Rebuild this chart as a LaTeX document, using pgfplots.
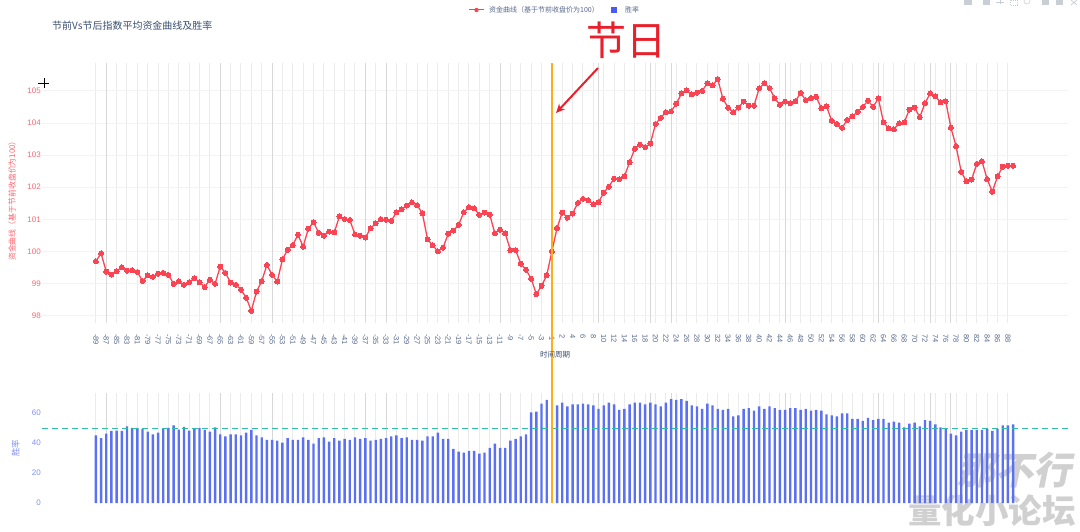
\documentclass[border=0pt]{standalone}
\usepackage{pgfplots}
\usepackage{pgfplotstable}
\usepackage{fontspec}
\usetikzlibrary{arrows.meta}
\pgfplotsset{compat=1.18}
\setmainfont{Liberation Sans}
\newfontfamily\cjk{Noto Sans CJK SC}
\newfontfamily\wm[BoldFeatures={FakeSlant=0.2}]{Noto Sans CJK SC}
\definecolor{curve}{HTML}{FA4454}
\definecolor{curvetxt}{HTML}{FF6570}
\definecolor{barblue}{HTML}{5B70F2}
\definecolor{bartxt}{HTML}{7F90FA}
\definecolor{slate}{HTML}{56688A}
\definecolor{titlec}{HTML}{3A4F70}
\definecolor{gridv}{HTML}{EBEBEB}
\definecolor{gridd}{HTML}{D8D8D8}
\definecolor{gridh}{HTML}{F3F3F3}
\definecolor{handred}{HTML}{E8202C}
\definecolor{holidayc}{HTML}{FFAE1A}
\definecolor{teal50}{HTML}{2FBFA8}
\definecolor{wmc}{HTML}{D0D0D0}
\definecolor{modec}{HTML}{C9CDD4}
\pgfplotstableread{
i v
0 99.69
1 99.94
2 99.37
3 99.28
4 99.38
5 99.51
6 99.40
7 99.42
8 99.36
9 99.08
10 99.25
11 99.21
12 99.31
13 99.33
14 99.27
15 98.99
16 99.07
17 98.96
18 99.04
19 99.17
20 99.04
21 98.89
22 99.12
23 98.99
24 99.53
25 99.33
26 99.03
27 98.96
28 98.81
29 98.56
30 98.15
31 98.75
32 99.07
33 99.58
34 99.27
35 99.06
36 99.75
37 100.05
38 100.20
39 100.52
40 100.15
41 100.71
42 100.91
43 100.58
44 100.49
45 100.62
46 100.59
47 101.09
48 101.01
49 100.98
50 100.53
51 100.49
52 100.43
53 100.72
54 100.87
55 101.00
56 100.99
57 100.95
58 101.22
59 101.31
60 101.43
61 101.53
62 101.44
63 101.19
64 100.38
65 100.19
66 100.00
67 100.12
68 100.55
69 100.65
70 100.83
71 101.22
72 101.38
73 101.34
74 101.14
75 101.21
76 101.15
77 100.56
78 100.68
79 100.56
80 100.04
81 100.04
82 99.62
83 99.43
84 99.15
85 98.67
86 98.93
87 99.25
88 100.00
89 100.73
90 101.21
91 101.05
92 101.18
93 101.51
94 101.64
95 101.60
96 101.47
97 101.53
98 101.83
99 102.02
100 102.27
101 102.25
102 102.34
103 102.78
104 103.20
105 103.33
106 103.25
107 103.36
108 103.97
109 104.16
110 104.34
111 104.36
112 104.60
113 104.92
114 105.02
115 104.89
116 104.95
117 105.00
118 105.24
119 105.17
120 105.37
121 104.76
122 104.48
123 104.33
124 104.48
125 104.67
126 104.54
127 104.54
128 105.08
129 105.24
130 105.09
131 104.77
132 104.57
133 104.67
134 104.62
135 104.68
136 104.94
137 104.71
138 104.78
139 104.82
140 104.46
141 104.52
142 104.07
143 103.97
144 103.85
145 104.10
146 104.21
147 104.35
148 104.50
149 104.70
150 104.50
151 104.77
152 104.02
153 103.83
154 103.81
155 103.99
156 104.02
157 104.42
158 104.48
159 104.18
160 104.62
161 104.92
162 104.83
163 104.65
164 104.68
165 103.86
166 103.28
167 102.48
168 102.18
169 102.24
170 102.73
171 102.81
172 102.25
173 101.86
174 102.34
175 102.64
176 102.67
177 102.67
}\curvetable
\pgfplotstableread{
i v
0 45.1
1 43.3
2 46.2
3 48.0
4 48.2
5 48.0
6 51.1
7 50.0
8 50.0
9 49.3
10 47.6
11 45.8
12 46.9
13 49.3
14 50.0
15 51.8
16 48.9
17 50.7
18 48.2
19 49.3
20 50.0
21 48.7
22 47.6
23 50.4
24 45.8
25 44.4
26 45.8
27 45.8
28 45.1
29 46.9
30 48.7
31 45.1
32 43.8
33 42.0
34 42.0
35 41.6
36 40.2
37 43.3
38 42.0
39 42.0
40 43.8
41 42.0
42 39.6
43 43.3
44 43.8
45 40.9
46 43.3
47 41.6
48 42.7
49 42.0
50 43.8
51 42.7
52 43.3
53 41.6
54 42.0
55 42.7
56 43.3
57 44.4
58 45.1
59 43.3
60 43.8
61 42.0
62 42.0
63 41.6
64 44.4
65 44.4
66 46.9
67 42.7
68 42.7
69 36.0
70 34.2
71 33.6
72 34.7
73 34.7
74 32.9
75 33.6
76 36.7
77 39.6
78 36.7
79 36.7
80 41.6
81 42.7
82 44.4
83 45.8
84 60.4
85 60.9
86 66.2
87 68.7
89 65.1
90 66.9
91 64.4
92 65.8
93 65.8
94 66.2
95 65.8
96 65.1
97 62.7
98 65.1
99 66.9
100 65.8
101 62.0
102 62.7
103 65.8
104 66.9
105 66.9
106 65.8
107 66.9
108 65.8
109 64.4
110 66.9
111 69.3
112 68.7
113 69.3
114 68.0
115 65.1
116 64.4
117 62.7
118 66.2
119 65.1
120 62.7
121 62.0
122 62.7
123 57.8
124 58.4
125 62.7
126 63.3
127 61.6
128 64.4
129 62.7
130 64.4
131 63.3
132 62.0
133 62.0
134 63.3
135 63.3
136 62.0
137 62.7
138 61.6
139 62.0
140 61.6
141 59.1
142 58.4
143 57.8
144 59.8
145 59.8
146 56.0
147 56.0
148 54.7
149 56.7
150 55.3
151 56.0
152 56.0
153 53.6
154 54.2
155 53.6
156 50.4
157 52.9
158 53.6
159 51.1
160 55.3
161 54.7
162 52.4
163 50.4
164 49.3
165 46.2
166 45.1
167 47.6
168 48.7
169 48.7
170 48.7
171 48.7
172 49.3
173 48.0
174 49.3
175 51.8
176 51.8
177 52.4
}\wintable
\pgfplotsset{
  every axis/.append style={
    scale only axis,
    anchor=south west,
    width=1026pt,
    xmin=-10.4, xmax=187.6,
    axis line style={draw=none},
    tick style={draw=none},
    xtick={0,2,...,176},
    extra x ticks={2,24,34,52,56,78,97,107,111,133,151,161,165},
    extra x tick labels={},
    extra x tick style={grid=major, major grid style={gridd, line width=1pt}},
    xmajorgrids,
    major grid style={gridv, line width=1pt},
    /pgf/number format/assume math mode=true,
  },
}
\begin{document}
\begin{tikzpicture}[x=1pt,y=1pt]
\path[use as bounding box] (0,0) rectangle (1080,531);
% watermark, under the bars
\node[text=wmc, anchor=east, inner sep=0pt] at (1072,61) {\wm\bfseries\fontsize{38}{38}\selectfont 那不行};
\node[text=wmc, anchor=east, inner sep=0pt] at (1076,20) {\cjk\bfseries\fontsize{33.5}{33.5}\selectfont 量化小论坛};
\begin{axis}[
  at={(42pt,208pt)}, height=260pt,
  ymin=97.77, ymax=105.87,
  ytick={98,99,100,101,102,103,104,105},
  ymajorgrids,
  major y grid style={gridh, line width=0.9pt},
  yticklabel style={font=\fontsize{8}{8}\selectfont, text=curvetxt, inner sep=0pt, xshift=-1pt},
  xticklabels={-89,-87,-85,-83,-81,-79,-77,-75,-73,-71,-69,-67,-65,-63,-61,-59,-57,-55,-53,-51,-49,-47,-45,-43,-41,-39,-37,-35,-33,-31,-29,-27,-25,-23,-21,-19,-17,-15,-13,-11,-9,-7,-5,-3,-1,2,4,6,8,10,12,14,16,18,20,22,24,26,28,30,32,34,36,38,40,42,44,46,48,50,52,54,56,58,60,62,64,66,68,70,72,74,76,78,80,82,84,86,88},
  xticklabel style={font=\fontsize{7.5}{7.5}\selectfont, text=slate, rotate=-90, anchor=west, inner sep=0pt, xshift=11pt},
]
\addplot[curve, line width=1.3pt, mark=*, mark size=2.5pt, mark options={fill=curve, draw=curve, line width=0pt}] table[x=i,y=v] {\curvetable};
\end{axis}
\begin{axis}[
  at={(42pt,28pt)}, height=110pt,
  ymin=0, ymax=73.33,
  clip=false,
  ytick={0,20,40,60},
  yticklabel style={font=\fontsize{8}{8}\selectfont, text=bartxt, inner sep=0pt, xshift=-1pt},
  xticklabels={},
]
\addplot[ybar, bar width=2.4pt, fill=barblue, draw=none] table[x=i,y=v] {\wintable};
\addplot[teal50, line width=0.9pt, dash pattern=on 5.5pt off 4.5pt] coordinates {(-10.4,50)(187.6,50)};
\addplot[holidayc, line width=1.4pt] coordinates {(88,0)(88,293.33)};
\end{axis}
% axis titles
\node[text=titlec, anchor=west, inner sep=0pt] at (52,505) {\cjk\fontsize{10}{10}\selectfont 节前Vs节后指数平均资金曲线及胜率};
\node[text=curvetxt, rotate=90, inner sep=0pt] at (12,332) {\cjk\fontsize{7.9}{7.9}\selectfont 资金曲线（基于节前收盘价为100）};
\node[text=bartxt, rotate=90, inner sep=0pt] at (15.5,83) {\cjk\fontsize{8.5}{8.5}\selectfont 胜率};
\node[text=titlec, inner sep=0pt] at (555,176) {\cjk\fontsize{7.5}{7.5}\selectfont 时间周期};
% legend
\draw[curve, line width=1pt] (469,521) -- (484,521);
\fill[curve] (476.5,521) circle (2.2pt);
\node[text=slate, anchor=west, inner sep=0pt] at (489,521) {\cjk\fontsize{7}{7}\selectfont 资金曲线（基于节前收盘价为100）};
\fill[barblue!80!blue] (611,518) rectangle (617,524);
\node[text=slate, anchor=west, inner sep=0pt] at (625,521) {\cjk\fontsize{7}{7}\selectfont 胜率};
% hand annotation
\node[text=handred, inner sep=0pt] at (626,491) {\cjk\fontsize{40}{40}\selectfont 节日};
\draw[handred, line width=2pt, -{Stealth[length=9pt,width=8pt]}] (598,463) -- (556,418);
% cursor
\draw[black, line width=0.7pt] (38,448) -- (49,448) (44,443) -- (44,453);
% mode bar
\fill[modec] (964,526) rectangle (972,531);
\fill[modec] (983,526) rectangle (990,531);
\draw[modec, line width=0.6pt] (1000,527) -- (1000,531) (996,529) -- (1004,529);
\draw[modec, line width=0.5pt, dash pattern=on 1pt off 1pt] (1010,526) rectangle (1017,531);
\draw[modec, line width=0.6pt] (1027,530) circle (3pt);
\fill[modec] (1042,526) rectangle (1049,531);
\fill[modec] (1056,526) rectangle (1063,531);
\draw[modec, line width=0.7pt] (1071,526) -- (1077,531) (1071,531) -- (1077,526);
\end{tikzpicture}
\end{document}
